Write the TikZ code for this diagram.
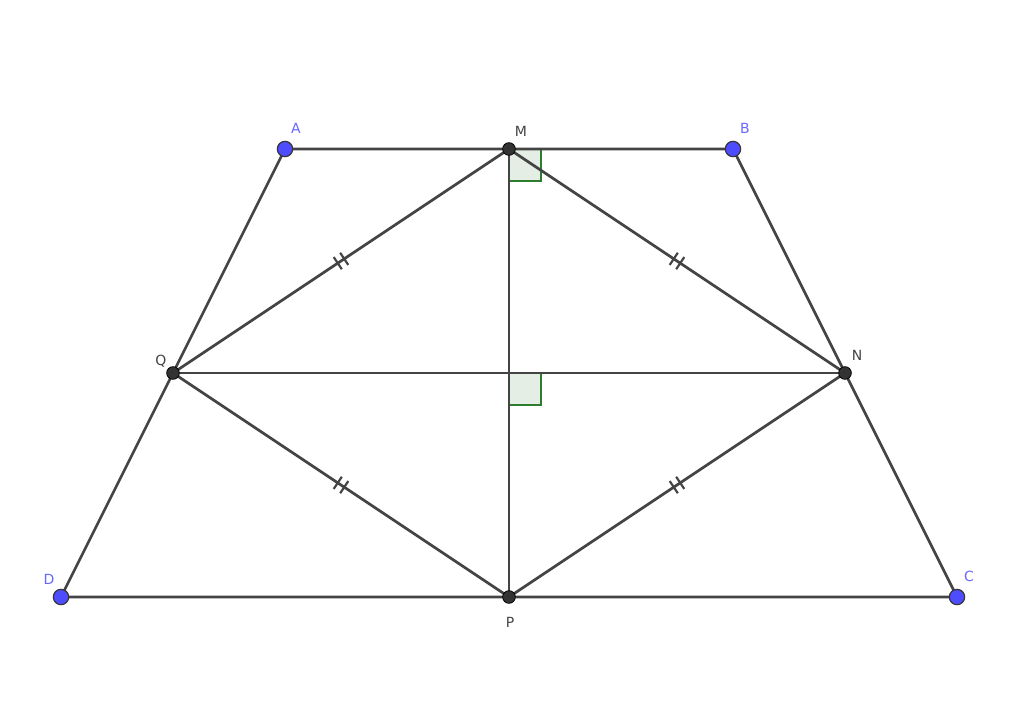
\documentclass[tikz,border=0pt]{standalone}
\usepackage{fontspec}
\setmainfont{DejaVu Sans}
\definecolor{seg}{HTML}{444444}
\definecolor{bluept}{HTML}{4D4DFF}
\definecolor{darkpt}{HTML}{333333}
\definecolor{rgreen}{HTML}{2E7D2E}
\definecolor{rfill}{HTML}{E4EEE4}
\begin{document}
\begin{tikzpicture}[x=0.75pt,y=-0.75pt,
  segline/.style={draw=seg,line width=2pt},
  freept/.style={circle,fill=bluept,draw=seg!80!black,line width=0.9pt,minimum size=11.5pt,inner sep=0pt},
  fixpt/.style={circle,fill=darkpt,draw=black,line width=0.6pt,minimum size=9.5pt,inner sep=0pt},
  bluelbl/.style={text=bluept!85!white,font=\fontsize{10.5}{12}\selectfont},
  darklbl/.style={text=seg,font=\fontsize{10.5}{12}\selectfont},
  ticks/.style={midway,sloped,inner sep=0pt,text=seg},
  rangle/.style={draw=rgreen,fill=rfill,line width=1.8pt}]
\useasboundingbox (0,0) rectangle (1024,724);
\fill[white] (0,0) rectangle (1024,724);
\coordinate (A) at (285,149);
\coordinate (M) at (509,149);
\coordinate (B) at (733,149);
\coordinate (Q) at (173,373);
\coordinate (N) at (845,373);
\coordinate (D) at (61,597);
\coordinate (P) at (509,597);
\coordinate (C) at (957,597);
\coordinate (O) at (509,373);
% right angle marks
\draw[rangle] (M) rectangle ++(32,32);
\draw[rangle] (O) rectangle ++(32,32);
% segments
\draw[segline] (A) -- (B) -- (C) -- (D) -- cycle;
\draw[segline] (M) -- (P);
\draw[segline] (Q) -- (N);
\path[segline] (M) -- (Q) node[ticks]{\rule{1.6pt}{11pt}\hspace{4.2pt}\rule{1.6pt}{11pt}};
\path[segline] (M) -- (N) node[ticks]{\rule{1.6pt}{11pt}\hspace{4.2pt}\rule{1.6pt}{11pt}};
\path[segline] (Q) -- (P) node[ticks]{\rule{1.6pt}{11pt}\hspace{4.2pt}\rule{1.6pt}{11pt}};
\path[segline] (N) -- (P) node[ticks]{\rule{1.6pt}{11pt}\hspace{4.2pt}\rule{1.6pt}{11pt}};
% points
\node[freept] (pA) at (A) {};
\node[freept] (pB) at (B) {};
\node[freept] (pC) at (C) {};
\node[freept] (pD) at (D) {};
\node[fixpt] (pM) at (M) {};
\node[fixpt] (pN) at (N) {};
\node[fixpt] (pQ) at (Q) {};
\node[fixpt] (pP) at (P) {};
% labels
\node[bluelbl] (lA) at (296,128) {A};
\node[bluelbl] (lB) at (745,128) {B};
\node[bluelbl] (lC) at (969,576) {C};
\node[bluelbl] (lD) at (49,579) {D};
\node[darklbl] (lM) at (521,131) {M};
\node[darklbl] (lN) at (857,355) {N};
\node[darklbl] (lQ) at (161,361) {Q};
\node[darklbl] (lP) at (510,622) {P};
\end{tikzpicture}
\end{document}
